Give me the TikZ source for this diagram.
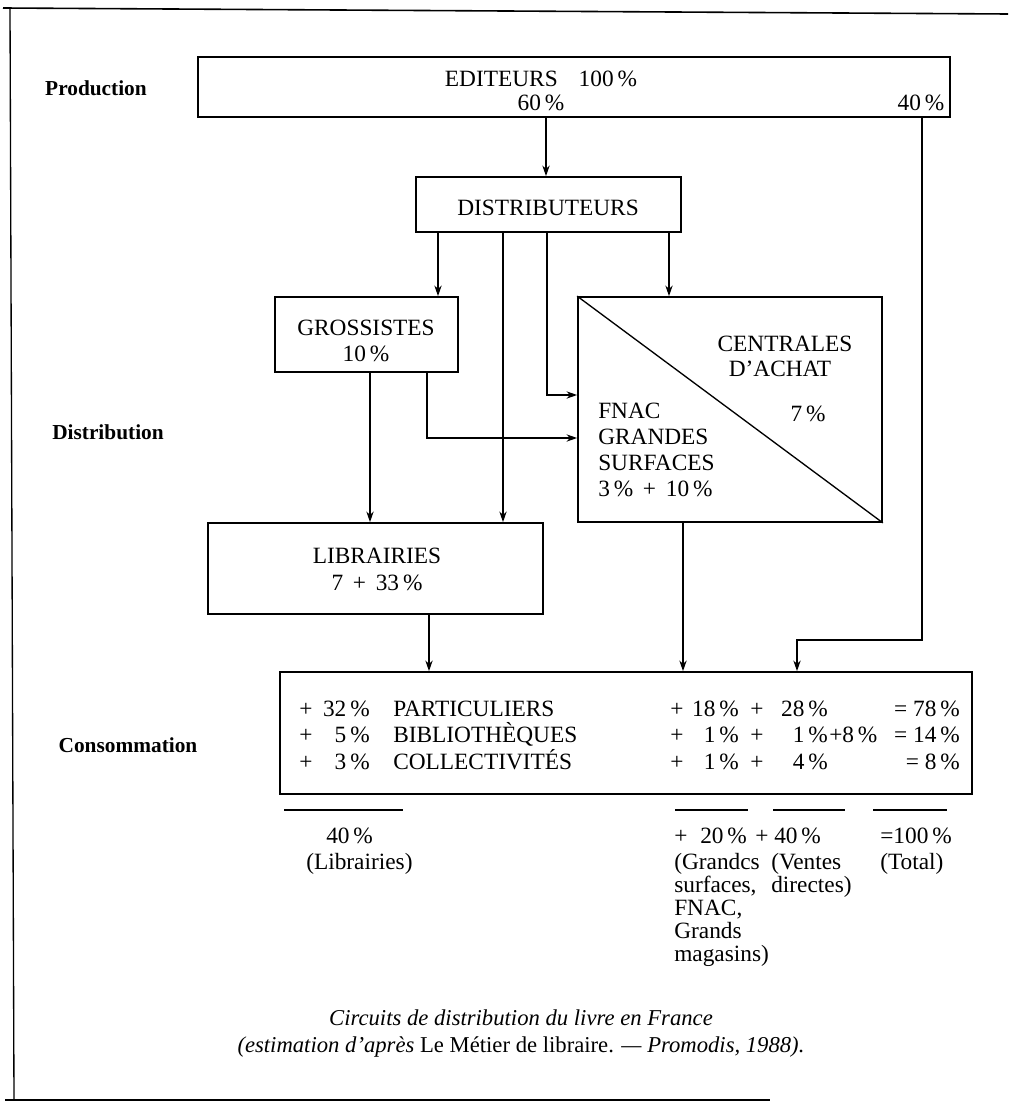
\documentclass[tikz,border=0pt]{standalone}
\usepackage{fontspec}
\setmainfont{Liberation Serif}
\usetikzlibrary{arrows.meta,fit}
\begin{document}
\begin{tikzpicture}[x=0.75pt,y=-0.75pt,
  box/.style={draw,line width=1.3pt,inner sep=0pt},
  conn/.style={line width=1pt},
  arr/.style={conn,-{Stealth[length=8pt,width=5.5pt]}},
  txt/.style={font=\fontsize{17.5}{17.5}\selectfont,inner sep=0pt},
  lbl/.style={font=\bfseries\fontsize{16}{19}\selectfont,inner sep=0pt},
  captxt/.style={font=\fontsize{17}{19}\selectfont,inner sep=0pt},
  uline/.style={line width=1.2pt}]
\useasboundingbox (0,0) rectangle (1008,1106);
% frame
\draw[line width=1.2pt] (3,8) -- (1008,14);
\draw[line width=1pt] (10,8) -- (14,1100);
\draw[line width=1.4pt] (5,1100) -- (770,1100);
% side labels
\node[lbl,anchor=base] (lprod) at (96,95) {Production};
\node[lbl,anchor=base] (ldist) at (108,439) {Distribution};
\node[lbl,anchor=base] (lcons) at (128,752) {Consommation};
% boxes
\coordinate (e1) at (198,57); \coordinate (e2) at (950,117);
\node[box,fit=(e1)(e2)] (edit) {};
\coordinate (d1) at (416,177); \coordinate (d2) at (681,232);
\node[box,fit=(d1)(d2)] (dist) {};
\coordinate (g1) at (275,297); \coordinate (g2) at (458,372);
\node[box,fit=(g1)(g2)] (gros) {};
\coordinate (c1) at (578,297); \coordinate (c2) at (882,522);
\node[box,fit=(c1)(c2)] (cent) {};
\coordinate (l1) at (208,523); \coordinate (l2) at (543,614);
\node[box,fit=(l1)(l2)] (lib) {};
\coordinate (k1) at (280,672); \coordinate (k2) at (972,794);
\node[box,fit=(k1)(k2)] (cons) {};
\draw[conn] (cent.north west) -- (cent.south east);
% box texts
\node[txt,anchor=base] (edt) at (541,86) {EDITEURS\hspace{0.9em}100\,\%};
\node[txt,anchor=base] (e60) at (541,110) {60\,\%};
\node[txt,anchor=base] (e40) at (921,110) {40\,\%};
\node[txt,anchor=base] (dt) at (548,215) {DISTRIBUTEURS};
\node[txt,anchor=base] (gt) at (366,335) {GROSSISTES};
\node[txt,anchor=base] (gp) at (366,361) {10\,\%};
\node[txt,anchor=base] (ct1) at (785,351) {CENTRALES};
\node[txt,anchor=base] (ct2) at (780,376) {D'ACHAT};
\node[txt,anchor=base] (ct3) at (808,421) {7\,\%};
\node[txt,anchor=base west] (ft1) at (598,418) {FNAC};
\node[txt,anchor=base west] (ft2) at (598,444) {GRANDES};
\node[txt,anchor=base west] (ft3) at (598,470) {SURFACES};
\node[txt,anchor=base west] (ft4) at (598,496) {3\,\% \,+\, 10\,\%};
\node[txt,anchor=base] (lt1) at (377,563) {LIBRAIRIES};
\node[txt,anchor=base] (lt2) at (377,590) {7 \,+\, 33\,\%};
% connector x positions
\coordinate (xa) at (546,0);
\coordinate (xb) at (922,0);
\coordinate (xc) at (438,0);
\coordinate (xd) at (503,0);
\coordinate (xe) at (547,0);
\coordinate (xf) at (669,0);
\coordinate (xg) at (370,0);
\coordinate (xh) at (427,0);
\coordinate (xi) at (429,0);
\coordinate (xj) at (683,0);
\coordinate (xk) at (797,0);
\coordinate (ya) at (0,395);
\coordinate (yb) at (0,438);
\coordinate (yc) at (0,640);
% connectors
\draw[arr] (edit.south -| xa) -- (dist.north -| xa);
\draw[arr] (edit.south -| xb) -- (xb |- yc) -- (xk |- yc) -- (cons.north -| xk);
\draw[arr] (dist.south -| xc) -- (gros.north -| xc);
\draw[arr] (dist.south -| xd) -- (lib.north -| xd);
\draw[arr] (dist.south -| xe) -- (xe |- ya) -- (cent.west |- ya);
\draw[arr] (dist.south -| xf) -- (cent.north -| xf);
\draw[arr] (gros.south -| xg) -- (lib.north -| xg);
\draw[arr] (gros.south -| xh) -- (xh |- yb) -- (cent.west |- yb);
\draw[arr] (lib.south -| xi) -- (cons.north -| xi);
\draw[arr] (cent.south -| xj) -- (cons.north -| xj);
% consumption rows
\foreach \y/\a/\b/\c/\d/\e [count=\i] in
  {716/32/PARTICULIERS/18/28/78, 742/5/BIBLIOTH\`EQUES/1/1/14, 769/3/COLLECTIVIT\'ES/1/4/8}{
  \node[txt,anchor=base] (rp\i) at (306,\y) {+};
  \node[txt,anchor=base east] (rn\i) at (370,\y) {\a\,\%};
  \node[txt,anchor=base west] (rl\i) at (393,\y) {\b};
  \node[txt,anchor=base] (rq\i) at (677,\y) {+};
  \node[txt,anchor=base east] (rm\i) at (739,\y) {\c\,\%};
  \node[txt,anchor=base] (rr\i) at (757,\y) {+};
  \node[txt,anchor=base east] (rs\i) at (828,\y) {\d\,\%};
  \node[txt,anchor=base east] (rt\i) at (960,\y) {= \e\,\%};
}
\node[txt,anchor=base west] (r8) at (829,742) {+8\,\%};
% underlines
\coordinate (u1) at (284,810); \coordinate (u2) at (403,810);
\coordinate (u3) at (675,810); \coordinate (u4) at (748,810);
\coordinate (u5) at (773,810); \coordinate (u6) at (845,810);
\coordinate (u7) at (873,810); \coordinate (u8) at (947,810);
\draw[uline] (u1) -- (u2);
\draw[uline] (u3) -- (u4);
\draw[uline] (u5) -- (u6);
\draw[uline] (u7) -- (u8);
% totals
\node[txt,anchor=base west] (b1) at (326,843) {40\,\%};
\node[txt,anchor=base west] (b2) at (306,869) {(Librairies)};
\node[txt,anchor=base west] (b3) at (674,843) {+\hspace{0.55em}20\,\%};
\node[txt,anchor=base west] (b4) at (755,843) {+ 40\,\%};
\node[txt,anchor=base west] (b5) at (880,843) {=100\,\%};
\node[txt,anchor=base west] (g1) at (674,869) {(Grandcs};
\node[txt,anchor=base west] (g2) at (674,892) {surfaces,};
\node[txt,anchor=base west] (g3) at (674,915) {FNAC,};
\node[txt,anchor=base west] (g4) at (674,938) {Grands};
\node[txt,anchor=base west] (g5) at (674,961) {magasins)};
\node[txt,anchor=base west] (v1) at (771,869) {(Ventes};
\node[txt,anchor=base west] (v2) at (771,892) {directes)};
\node[txt,anchor=base west] (b8) at (880,869) {(Total)};
% caption
\node[captxt,anchor=base] (cap1) at (521,1025) {\itshape Circuits de distribution du livre en France};
\node[captxt,anchor=base] (cap2) at (521,1052) {\itshape (estimation d'apr\`es \upshape Le M\'etier de libraire. \itshape --- Promodis, 1988).};
\end{tikzpicture}
\end{document}
